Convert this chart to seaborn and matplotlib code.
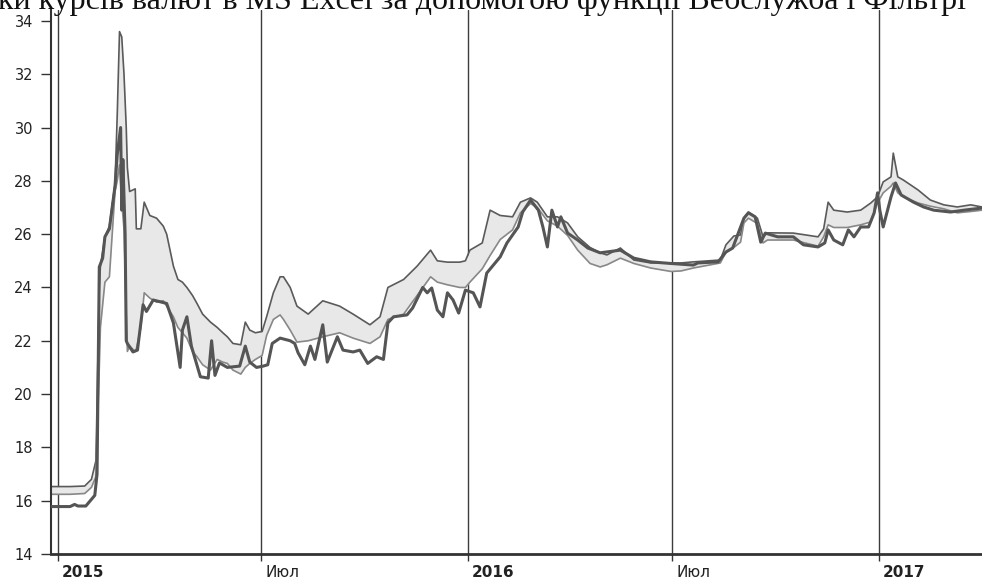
import numpy as np
import pandas as pd
import matplotlib
matplotlib.use("Agg")
import matplotlib.pyplot as plt
import matplotlib.transforms as mtransforms
import seaborn as sns

# ---------------------------
# Data
# ---------------------------
band_dates = [
    "2014-12-26", "2015-01-12", "2015-01-25", "2015-01-31", "2015-02-04", "2015-02-07",
    "2015-02-08", "2015-02-12", "2015-02-16", "2015-02-21", "2015-02-23", "2015-02-25",
    "2015-02-27", "2015-03-01", "2015-03-03", "2015-03-04", "2015-03-06", "2015-03-11",
    "2015-03-12", "2015-03-16", "2015-03-19", "2015-03-24", "2015-03-30", "2015-04-05",
    "2015-04-08", "2015-04-14", "2015-04-18", "2015-04-22", "2015-04-26", "2015-05-01",
    "2015-05-05", "2015-05-10", "2015-05-17", "2015-05-23", "2015-05-28", "2015-06-01",
    "2015-06-06", "2015-06-13", "2015-06-17", "2015-06-21", "2015-06-26", "2015-07-02",
    "2015-07-06", "2015-07-12", "2015-07-18", "2015-07-21", "2015-07-27", "2015-08-02",
    "2015-08-12", "2015-08-25", "2015-09-09", "2015-09-21", "2015-10-06", "2015-10-15",
    "2015-10-22", "2015-11-05", "2015-11-17", "2015-11-29", "2015-12-05", "2015-12-14",
    "2015-12-25", "2015-12-30", "2016-01-03", "2016-01-14", "2016-01-21", "2016-01-30",
    "2016-02-10", "2016-02-17", "2016-02-26", "2016-03-03", "2016-03-12", "2016-03-21",
    "2016-03-30", "2016-04-08", "2016-04-19", "2016-04-28", "2016-05-04", "2016-05-16",
    "2016-05-28", "2016-06-12", "2016-06-30", "2016-07-09", "2016-07-20", "2016-08-13",
    "2016-08-18", "2016-08-25", "2016-08-31", "2016-09-03", "2016-09-07", "2016-09-15",
    "2016-09-20", "2016-09-24", "2016-10-17", "2016-11-08", "2016-11-13", "2016-11-17",
    "2016-11-22", "2016-12-04", "2016-12-16", "2016-12-25", "2016-12-31", "2017-01-05",
    "2017-01-12", "2017-01-14", "2017-01-18", "2017-01-23", "2017-02-05", "2017-02-16",
    "2017-02-28", "2017-03-12", "2017-03-24", "2017-04-03",
]
band_upper = [
    16.53, 16.53, 16.55, 16.80, 17.50, 24.00,
    24.80, 25.90, 26.30, 27.90, 30.50, 33.60,
    33.40, 32.00, 30.00, 28.50, 27.60, 27.70,
    26.20, 26.20, 27.20, 26.70, 26.60, 26.30,
    26.00, 24.80, 24.30, 24.20, 24.00, 23.70,
    23.40, 23.00, 22.70, 22.50, 22.30, 22.15,
    21.90, 21.85, 22.70, 22.40, 22.30, 22.35,
    22.90, 23.80, 24.40, 24.40, 24.00, 23.30,
    23.00, 23.50, 23.30, 23.00, 22.60, 22.90,
    24.00, 24.30, 24.80, 25.40, 25.00, 24.95,
    24.95, 25.00, 25.40, 25.67, 26.90, 26.70,
    26.65, 27.20, 27.36, 27.20, 26.65, 26.65,
    26.42, 25.90, 25.50, 25.30, 25.22, 25.48,
    25.03, 24.92, 24.92, 24.92, 24.96, 25.03,
    25.60, 25.93, 25.97, 26.60, 26.83, 26.60,
    25.90, 26.05, 26.04, 25.90, 26.20, 27.20,
    26.90, 26.83, 26.90, 27.17, 27.40, 27.96,
    28.15, 29.04, 28.15, 28.03, 27.66, 27.28,
    27.10, 27.02, 27.10, 27.02,
]
band_lower = [
    16.24, 16.24, 16.27, 16.50, 16.90, 21.00,
    22.50, 24.20, 24.40, 27.60, 28.00, 28.60,
    27.20, 26.20, 23.00, 21.60, 21.80, 21.60,
    21.70, 22.50, 23.80, 23.60, 23.45, 23.50,
    23.30, 22.90, 22.50, 22.30, 22.10, 21.60,
    21.40, 21.10, 20.90, 21.30, 21.20, 21.15,
    20.90, 20.75, 21.00, 21.15, 21.30, 21.45,
    22.20, 22.80, 22.97, 22.80, 22.40, 21.95,
    22.00, 22.15, 22.30, 22.10, 21.90, 22.15,
    22.80, 23.00, 23.70, 24.40, 24.20, 24.10,
    24.00, 24.00, 24.20, 24.70, 25.20, 25.80,
    26.16, 26.80, 27.15, 27.00, 26.50, 26.30,
    25.95, 25.40, 24.90, 24.77, 24.85, 25.10,
    24.90, 24.73, 24.60, 24.62, 24.73, 24.92,
    25.33, 25.50, 25.70, 26.42, 26.60, 26.40,
    25.67, 25.78, 25.78, 25.55, 25.90, 26.35,
    26.25, 26.25, 26.35, 26.46, 27.17, 27.55,
    27.80, 27.92, 27.55, 27.40, 27.17, 27.05,
    26.95, 26.80, 26.85, 26.90,
]

rate_dates = [
    "2014-12-26", "2015-01-12", "2015-01-16", "2015-01-19", "2015-01-26", "2015-01-30",
    "2015-02-03", "2015-02-05", "2015-02-07", "2015-02-10", "2015-02-12", "2015-02-16",
    "2015-02-21", "2015-02-23", "2015-02-26", "2015-02-27", "2015-02-28", "2015-03-02",
    "2015-03-03", "2015-03-04", "2015-03-09", "2015-03-13", "2015-03-18", "2015-03-21",
    "2015-03-27", "2015-04-08", "2015-04-14", "2015-04-20", "2015-04-22", "2015-04-26",
    "2015-04-30", "2015-05-08", "2015-05-15", "2015-05-18", "2015-05-21", "2015-05-25",
    "2015-06-01", "2015-06-12", "2015-06-17", "2015-06-21", "2015-06-27", "2015-07-03",
    "2015-07-07", "2015-07-11", "2015-07-18", "2015-07-27", "2015-07-31", "2015-08-03",
    "2015-08-09", "2015-08-14", "2015-08-18", "2015-08-25", "2015-08-29", "2015-09-07",
    "2015-09-12", "2015-09-21", "2015-09-27", "2015-10-04", "2015-10-12", "2015-10-18",
    "2015-10-22", "2015-10-27", "2015-11-08", "2015-11-13", "2015-11-22", "2015-11-26",
    "2015-11-30", "2015-12-05", "2015-12-10", "2015-12-14", "2015-12-19", "2015-12-24",
    "2015-12-30", "2016-01-06", "2016-01-12", "2016-01-18", "2016-01-30", "2016-02-05",
    "2016-02-15", "2016-02-19", "2016-02-26", "2016-03-04", "2016-03-08", "2016-03-12",
    "2016-03-16", "2016-03-21", "2016-03-24", "2016-03-30", "2016-04-08", "2016-04-17",
    "2016-04-28", "2016-05-16", "2016-05-28", "2016-06-12", "2016-06-30", "2016-07-20",
    "2016-07-24", "2016-08-11", "2016-08-18", "2016-08-24", "2016-09-03", "2016-09-07",
    "2016-09-13", "2016-09-18", "2016-09-22", "2016-10-03", "2016-10-17", "2016-10-26",
    "2016-11-08", "2016-11-14", "2016-11-17", "2016-11-22", "2016-11-30", "2016-12-05",
    "2016-12-10", "2016-12-16", "2016-12-23", "2016-12-28", "2016-12-31", "2017-01-02",
    "2017-01-05", "2017-01-12", "2017-01-16", "2017-01-21", "2017-02-01", "2017-02-10",
    "2017-02-19", "2017-03-06", "2017-03-18", "2017-04-03",
]
rate_values = [
    15.78, 15.78, 15.86, 15.80, 15.80, 16.00,
    16.20, 17.00, 24.77, 25.10, 25.90, 26.20,
    27.80, 29.00, 30.00, 26.90, 28.80, 26.00,
    22.00, 21.90, 21.58, 21.65, 23.35, 23.10,
    23.53, 23.40, 22.67, 21.00, 22.40, 22.90,
    21.80, 20.65, 20.60, 22.00, 20.70, 21.17,
    21.00, 21.05, 21.80, 21.20, 21.00, 21.05,
    21.10, 21.90, 22.10, 22.00, 21.90, 21.55,
    21.10, 21.80, 21.30, 22.60, 21.20, 22.15,
    21.65, 21.58, 21.65, 21.15, 21.40, 21.30,
    22.67, 22.90, 22.97, 23.23, 24.00, 23.80,
    23.98, 23.15, 22.90, 23.80, 23.53, 23.04,
    23.90, 23.80, 23.27, 24.54, 25.15, 25.67,
    26.27, 26.83, 27.28, 26.90, 26.27, 25.52,
    26.90, 26.27, 26.65, 26.04, 25.78, 25.48,
    25.30, 25.40, 25.10, 24.96, 24.90, 24.84,
    24.92, 24.96, 25.33, 25.48, 26.60, 26.80,
    26.65, 25.70, 26.04, 25.90, 25.90, 25.60,
    25.52, 25.67, 26.16, 25.78, 25.60, 26.16,
    25.90, 26.27, 26.27, 26.80, 27.55, 26.90,
    26.27, 27.40, 27.92, 27.47, 27.20, 27.02,
    26.90, 26.83, 26.90, 26.98,
]

tick_dates = ["2015-01-01", "2015-07-01", "2016-01-01", "2016-07-01", "2017-01-01"]
tick_labels = ["2015", "Июл", "2016", "Июл", "2017"]
y_ticks = list(range(14, 35, 2))
title_text = "ки курсів валют в MS Excel за допомогою функції Вебслужба і Фільтрі"

# ---------------------------
# Plot
# ---------------------------
sns.set_style("white")
plt.rcParams["font.family"] = ["DejaVu Sans"]

band = pd.DataFrame({"date": pd.to_datetime(band_dates), "upper": band_upper, "lower": band_lower})
rate = pd.DataFrame({"date": pd.to_datetime(rate_dates), "value": rate_values})

fig = plt.figure(figsize=(9.82, 5.81), dpi=100)
ax = fig.add_axes([51 / 982, 27 / 581, 1 - 51 / 982, (554 - 10) / 581])

ax.fill_between(band["date"], band["lower"], band["upper"], color="#e8e8e8", lw=0, zorder=1)
sns.lineplot(data=band, x="date", y="upper", ax=ax, color="#5a5a5a", lw=1.2, estimator=None, zorder=2)
sns.lineplot(data=band, x="date", y="lower", ax=ax, color="#888888", lw=1.2, estimator=None, zorder=2)
sns.lineplot(data=rate, x="date", y="value", ax=ax, color="#555555", lw=2.2, estimator=None, zorder=3)

for d in tick_dates:
    ax.axvline(pd.Timestamp(d), color="#3c3c3c", lw=1, zorder=0.5)

ax.set_xlim(pd.Timestamp("2014-12-26"), pd.Timestamp("2017-04-03"))
ax.set_ylim(14, 34.41)
ax.set_yticks(y_ticks)
ax.set_xticks(pd.to_datetime(tick_dates))
ax.set_xticklabels(tick_labels)
ax.set_xlabel("")
ax.set_ylabel("")

sns.despine(ax=ax)
ax.spines["left"].set_color("#333333")
ax.spines["left"].set_linewidth(1.5)
ax.spines["bottom"].set_color("#333333")
ax.spines["bottom"].set_linewidth(2)

ax.tick_params(axis="y", left=True, length=7, width=1, color="#333333", pad=6,
               labelsize=10.5, labelcolor="#222222")
ax.tick_params(axis="x", bottom=True, length=5, width=1, color="#333333", pad=3,
               labelsize=11, labelcolor="#222222")

offset = mtransforms.ScaledTranslation(4 / 100, 0, fig.dpi_scale_trans)
for lbl, txt in zip(ax.get_xticklabels(), tick_labels):
    lbl.set_ha("left")
    lbl.set_transform(lbl.get_transform() + offset)
    if txt.isdigit():
        lbl.set_fontweight("bold")

# title line of the source page, only its lower part shows above the plot
fig.text(-0.002, 1 - 8.5 / 581, title_text, ha="left", va="baseline",
         fontsize=23, family=["Liberation Serif", "DejaVu Serif"], color="#111111")

fig.savefig("out.png", dpi=100)
